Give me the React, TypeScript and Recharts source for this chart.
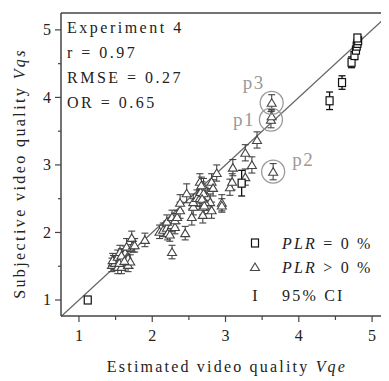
import React from 'react';
import { ScatterChart, Scatter, XAxis, YAxis, ErrorBar, ReferenceLine } from 'recharts';

// PLR = 0 % (squares): x = estimated Vqe, y = subjective Vqs, e = 95% CI half width
const plrZero = [
  { x: 1.12, y: 1.0, e: 0.03 },
  { x: 3.22, y: 2.73, e: 0.19 },
  { x: 4.42, y: 3.95, e: 0.13 },
  { x: 4.59, y: 4.22, e: 0.1 },
  { x: 4.72, y: 4.52, e: 0.08 },
  { x: 4.76, y: 4.62, e: 0.06 },
  { x: 4.78, y: 4.7, e: 0.05 },
  { x: 4.79, y: 4.76, e: 0.05 },
  { x: 4.8, y: 4.8, e: 0.05 },
  { x: 4.81, y: 4.84, e: 0.04 },
  { x: 4.8, y: 4.88, e: 0.04 },
];

// PLR > 0 % (triangles)
const plrPositive = [
  { x: 1.45, y: 1.52, e: 0.1 }, { x: 1.47, y: 1.56, e: 0.1 }, { x: 1.49, y: 1.55, e: 0.1 },
  { x: 1.46, y: 1.59, e: 0.1 }, { x: 1.53, y: 1.49, e: 0.1 }, { x: 1.53, y: 1.64, e: 0.1 },
  { x: 1.56, y: 1.59, e: 0.1 }, { x: 1.56, y: 1.71, e: 0.1 }, { x: 1.58, y: 1.49, e: 0.1 },
  { x: 1.6, y: 1.56, e: 0.1 }, { x: 1.6, y: 1.62, e: 0.1 }, { x: 1.63, y: 1.7, e: 0.1 },
  { x: 1.65, y: 1.79, e: 0.12 }, { x: 1.65, y: 1.62, e: 0.1 }, { x: 1.67, y: 1.52, e: 0.1 },
  { x: 1.67, y: 1.62, e: 0.1 }, { x: 1.7, y: 1.57, e: 0.1 }, { x: 1.72, y: 1.92, e: 0.1 },
  { x: 1.74, y: 1.81, e: 0.1 }, { x: 1.76, y: 1.81, e: 0.1 }, { x: 1.9, y: 1.89, e: 0.1 },
  { x: 1.55, y: 1.55, e: 0.1 }, { x: 1.58, y: 1.66, e: 0.1 }, { x: 1.62, y: 1.58, e: 0.1 },
  { x: 2.1, y: 2.01, e: 0.1 }, { x: 2.15, y: 2.04, e: 0.1 }, { x: 2.2, y: 2.07, e: 0.1 },
  { x: 2.21, y: 1.99, e: 0.1 }, { x: 2.24, y: 1.97, e: 0.1 }, { x: 2.27, y: 2.11, e: 0.1 },
  { x: 2.31, y: 2.08, e: 0.1 }, { x: 2.45, y: 1.99, e: 0.1 }, { x: 2.2, y: 2.16, e: 0.1 },
  { x: 2.27, y: 2.23, e: 0.1 }, { x: 2.31, y: 2.18, e: 0.1 }, { x: 2.34, y: 2.23, e: 0.1 },
  { x: 2.27, y: 1.71, e: 0.1 },
  { x: 2.38, y: 2.33, e: 0.12 }, { x: 2.38, y: 2.44, e: 0.12 }, { x: 2.47, y: 2.58, e: 0.14 },
  { x: 2.54, y: 2.23, e: 0.12 }, { x: 2.56, y: 2.38, e: 0.12 }, { x: 2.56, y: 2.45, e: 0.12 },
  { x: 2.61, y: 2.51, e: 0.12 }, { x: 2.65, y: 2.75, e: 0.12 }, { x: 2.65, y: 2.51, e: 0.12 },
  { x: 2.68, y: 2.63, e: 0.12 }, { x: 2.69, y: 2.38, e: 0.12 }, { x: 2.69, y: 2.26, e: 0.12 },
  { x: 2.7, y: 2.68, e: 0.12 }, { x: 2.72, y: 2.55, e: 0.12 }, { x: 2.75, y: 2.53, e: 0.12 },
  { x: 2.79, y: 2.45, e: 0.12 }, { x: 2.81, y: 2.33, e: 0.12 }, { x: 2.81, y: 2.75, e: 0.12 },
  { x: 2.83, y: 2.66, e: 0.12 }, { x: 2.88, y: 2.88, e: 0.12 }, { x: 2.95, y: 2.44, e: 0.12 },
  { x: 3.06, y: 2.67, e: 0.12 }, { x: 3.09, y: 2.75, e: 0.12 }, { x: 3.1, y: 2.96, e: 0.12 },
  { x: 3.27, y: 2.82, e: 0.12 }, { x: 3.36, y: 3.0, e: 0.12 }, { x: 3.27, y: 3.18, e: 0.12 },
  { x: 3.43, y: 3.37, e: 0.12 }, { x: 2.66, y: 2.6, e: 0.12 }, { x: 2.7, y: 2.48, e: 0.12 },
  { x: 2.67, y: 2.7, e: 0.12 }, { x: 2.7, y: 2.58, e: 0.12 }, { x: 2.72, y: 2.45, e: 0.12 },
  { x: 2.68, y: 2.5, e: 0.12 }, { x: 2.71, y: 2.4, e: 0.12 }, { x: 2.95, y: 2.4, e: 0.1 },
  { x: 3.62, y: 3.67, e: 0.12 }, { x: 3.63, y: 3.72, e: 0.1 }, { x: 3.63, y: 3.92, e: 0.12 },
  { x: 3.65, y: 2.9, e: 0.12 },
];

// highlighted outliers
const highlights = [
  { label: 'p1', x: 3.62, y: 3.67 },
  { label: 'p2', x: 3.65, y: 2.9 },
  { label: 'p3', x: 3.63, y: 3.92 },
];

const statsLines = ['Experiment 4', 'r = 0.97', 'RMSE = 0.27', 'OR = 0.65'];
const xTicks = [1, 1.5, 2, 2.5, 3, 3.5, 4, 4.5, 5];
const yTicks = [1, 1.5, 2, 2.5, 3, 3.5, 4, 4.5, 5];
const xDomain = [0.755, 5.19];
const yDomain = [0.763, 5.25];
const identity = [
  { x: 0.76, y: 0.76 },
  { x: 5.2, y: 5.2 },
];

const FONT = "'Liberation Serif', 'Times New Roman', Times, serif";
const serif = { fontFamily: FONT };
const AX = '#444';
const W = 381;
const H = 373;

const XTick = (props: any) => {
  const { x, y, payload } = props;
  const v = payload.value;
  const major = Number.isInteger(v);
  return (
    <g>
      <line x1={x} x2={x} y1={y} y2={y + (major ? 6 : 4)} stroke={AX} strokeWidth={1.2} />
      {major && (
        <text x={x} y={y + 25} textAnchor="middle" style={serif} fontSize={16} fill="#222">
          {v}
        </text>
      )}
    </g>
  );
};

const YTick = (props: any) => {
  const { x, y, payload } = props;
  const v = payload.value;
  const major = Number.isInteger(v);
  return (
    <g>
      <line x1={x - (major ? 6 : 3)} x2={x} y1={y} y2={y} stroke={AX} strokeWidth={1.2} />
      {major && (
        <text x={x - 10} y={y + 5.5} textAnchor="end" style={serif} fontSize={16} fill="#222">
          {v}
        </text>
      )}
    </g>
  );
};

const Square = (props: any) => {
  const { cx, cy } = props;
  return <rect x={cx - 3.5} y={cy - 4} width={7} height={8} fill="#fff" stroke="#111" strokeWidth={1.2} />;
};

const Triangle = (props: any) => {
  const { cx, cy } = props;
  return (
    <polygon
      points={`${cx},${cy - 4} ${cx - 4.5},${cy + 3.5} ${cx + 4.5},${cy + 3.5}`}
      fill="#fff"
      stroke="#444"
      strokeWidth={1.1}
    />
  );
};

const labelOffset: Record<string, [number, number]> = {
  p1: [-38, 6],
  p2: [19, -6],
  p3: [-29, -14],
};

const Highlight = (props: any) => {
  const { cx, cy, payload } = props;
  const [dx, dy] = labelOffset[payload.label] || [0, 0];
  return (
    <g>
      <circle cx={cx} cy={cy} r={11.5} fill="none" stroke="#999" strokeWidth={1.3} />
      <text x={cx + dx} y={cy + dy} style={serif} fontSize={19} letterSpacing={1.5} fill="#999">
        {payload.label}
      </text>
    </g>
  );
};

export default function App() {
  return (
    <div style={{ position: 'relative', width: W, height: H, fontFamily: FONT }}>
      <ScatterChart width={W} height={H} margin={{ top: 5, right: 3, bottom: 0, left: 0 }}>
        <XAxis
          type="number"
          dataKey="x"
          domain={xDomain}
          ticks={xTicks}
          allowDataOverflow
          interval={0}
          height={65}
          tickSize={0}
          tickMargin={0}
          tick={<XTick />}
          axisLine={{ stroke: AX, strokeWidth: 1.5 }}
        />
        <YAxis
          type="number"
          dataKey="y"
          domain={yDomain}
          ticks={yTicks}
          allowDataOverflow
          interval={0}
          width={53}
          tickSize={0}
          tickMargin={0}
          tick={<YTick />}
          axisLine={{ stroke: AX, strokeWidth: 1.5 }}
        />
        <ReferenceLine y={yDomain[1]} stroke={AX} strokeWidth={1.5} ifOverflow="visible" />
        <ReferenceLine segment={identity} stroke="#666" strokeWidth={1.2} ifOverflow="visible" />
        <Scatter data={plrPositive} shape={<Triangle />} isAnimationActive={false}>
          <ErrorBar dataKey="e" direction="y" width={3.5} stroke="#444" strokeWidth={1.1} />
        </Scatter>
        <Scatter data={plrZero} shape={<Square />} isAnimationActive={false}>
          <ErrorBar dataKey="e" direction="y" width={3.5} stroke="#111" strokeWidth={1.3} />
        </Scatter>
        <Scatter data={highlights} shape={<Highlight />} isAnimationActive={false} />
      </ScatterChart>
      <svg
        width={W}
        height={H}
        style={{ position: 'absolute', left: 0, top: 0, pointerEvents: 'none', fontFamily: FONT }}
      >
        {statsLines.map((s, i) => (
          <text key={s} x={59} y={25 + i * 25} style={serif} fontSize={16} letterSpacing={2.5} fill="#222">
            {s}
          </text>
        ))}
        {/* legend */}
        <rect x={243.5} y={231} width={7} height={8} fill="#fff" stroke="#111" strokeWidth={1.2} />
        <text x={274} y={240.5} style={serif} fontSize={16} letterSpacing={2.2} fill="#222">
          <tspan fontStyle="italic">PLR</tspan> = 0 %
        </text>
        <polygon points="247,255 242.5,262.5 251.5,262.5" fill="#fff" stroke="#444" strokeWidth={1.1} />
        <text x={274} y={264.5} style={serif} fontSize={16} letterSpacing={2.2} fill="#222">
          <tspan fontStyle="italic">PLR</tspan> &gt; 0 %
        </text>
        <text x={247} y={292.5} style={serif} fontSize={16} textAnchor="middle" fill="#222">
          I
        </text>
        <text x={274} y={292.5} style={serif} fontSize={16} letterSpacing={2.2} fill="#222">
          95% CI
        </text>
        {/* axis titles */}
        <text x={219} y={364} style={serif} fontSize={16} letterSpacing={2.2} textAnchor="middle" fill="#222">
          Estimated video quality <tspan fontStyle="italic">Vqe</tspan>
        </text>
        <text
          x={17}
          y={165.5}
          style={serif}
          fontSize={16}
          letterSpacing={2.4}
          textAnchor="middle"
          fill="#222"
          transform="rotate(-90, 17, 165.5)"
        >
          Subjective video quality <tspan fontStyle="italic">Vqs</tspan>
        </text>
      </svg>
    </div>
  );
}
